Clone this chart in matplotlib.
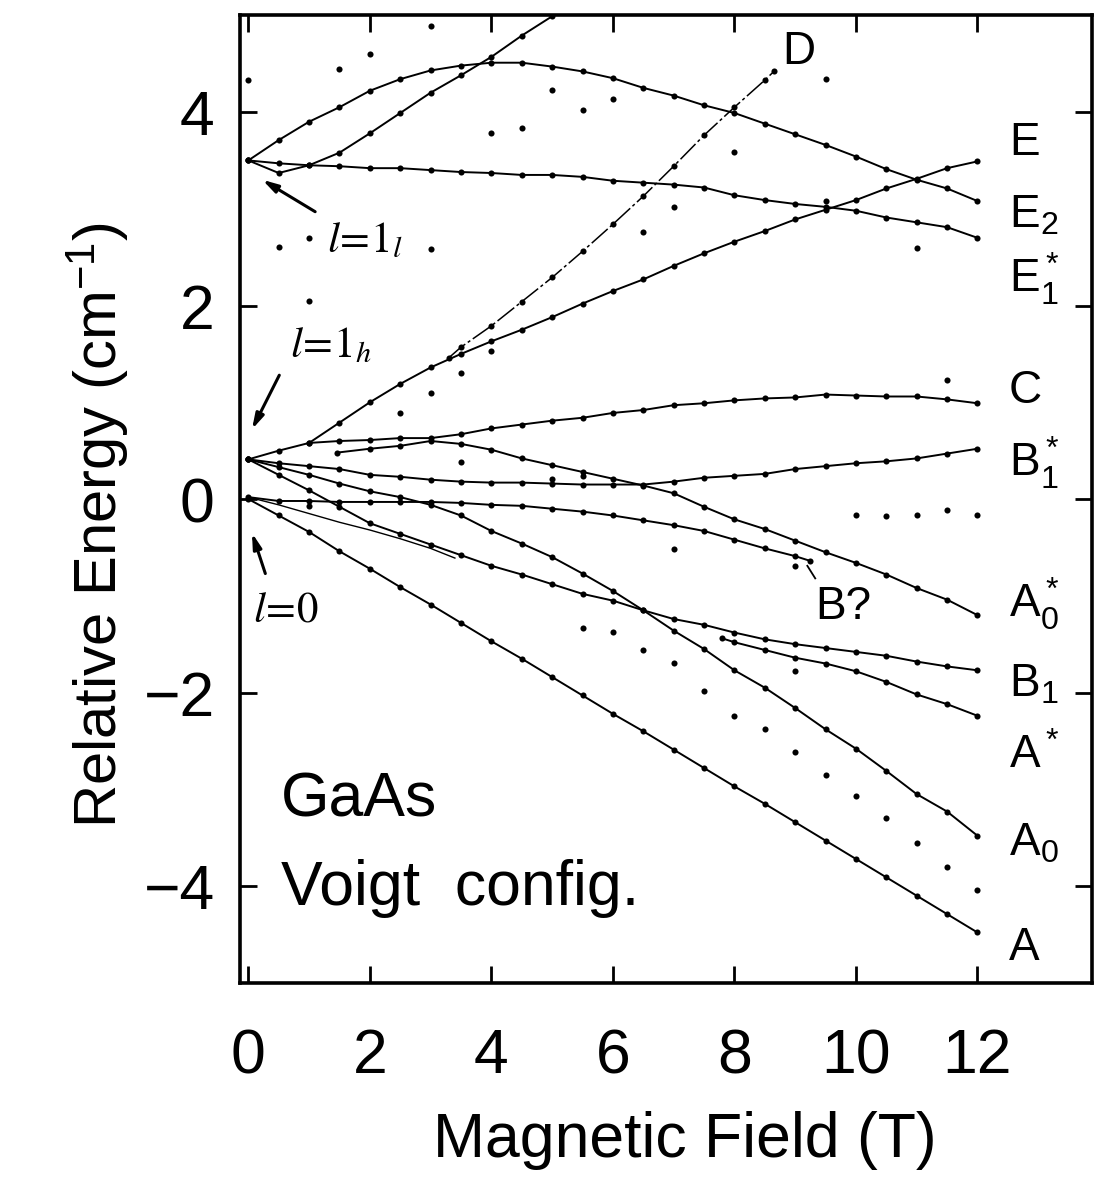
import matplotlib.pyplot as plt

plt.rcParams['font.family'] = ['Liberation Sans', 'DejaVu Sans']
plt.rcParams['mathtext.fontset'] = 'custom'
plt.rcParams['mathtext.rm'] = 'Liberation Sans'
plt.rcParams['mathtext.it'] = 'Liberation Sans:italic'
plt.rcParams['mathtext.bf'] = 'Liberation Sans:bold'

# field values (T) for the full-range levels
field = [0, 0.5, 1, 1.5, 2, 2.5, 3, 3.5, 4, 4.5, 5, 5.5, 6, 6.5, 7, 7.5, 8, 8.5,
         9, 9.5, 10, 10.5, 11, 11.5, 12]

# levels (cm^-1)
A = [0.0, -0.17, -0.34, -0.54, -0.72, -0.91, -1.09, -1.28, -1.47, -1.65, -1.84,
     -2.03, -2.22, -2.40, -2.59, -2.78, -2.97, -3.15, -3.34, -3.53, -3.72, -3.91,
     -4.10, -4.29, -4.48]
A0 = [0.41, 0.33, 0.25, 0.16, 0.08, 0.02, -0.06, -0.17, -0.33, -0.46, -0.60,
      -0.77, -0.95, -1.15, -1.36, -1.55, -1.77, -1.95, -2.16, -2.38, -2.58,
      -2.81, -3.05, -3.23, -3.48]
B1 = [0.41, 0.25, 0.09, -0.08, -0.25, -0.36, -0.47, -0.58, -0.69, -0.78, -0.88,
      -0.98, -1.05, -1.15, -1.24, -1.30, -1.38, -1.45, -1.50, -1.54, -1.58,
      -1.62, -1.68, -1.73, -1.77]
B1_star = [0.41, 0.37, 0.34, 0.31, 0.25, 0.23, 0.20, 0.18, 0.17, 0.17, 0.16,
           0.15, 0.15, 0.15, 0.18, 0.22, 0.24, 0.26, 0.31, 0.34, 0.37, 0.39,
           0.42, 0.47, 0.52]
C = [0.41, 0.50, 0.58, 0.60, 0.61, 0.63, 0.63, 0.67, 0.73, 0.77, 0.81, 0.84,
     0.89, 0.92, 0.97, 0.99, 1.02, 1.04, 1.05, 1.08, 1.07, 1.06, 1.06, 1.03, 0.99]
E2 = [3.50, 3.71, 3.90, 4.05, 4.22, 4.34, 4.43, 4.48, 4.51, 4.51, 4.47, 4.42,
      4.35, 4.25, 4.17, 4.07, 3.99, 3.88, 3.77, 3.66, 3.54, 3.41, 3.30, 3.21, 3.08]
E1_star = [3.50, 3.47, 3.45, 3.44, 3.42, 3.42, 3.40, 3.38, 3.37, 3.35, 3.35,
           3.33, 3.29, 3.27, 3.25, 3.22, 3.14, 3.09, 3.05, 3.02, 2.98, 2.91,
           2.86, 2.81, 2.70]

E_x = [1, 1.5, 2, 2.5, 3, 3.5, 4, 4.5, 5, 5.5, 6, 6.5, 7, 7.5, 8, 8.5, 9, 9.5,
       10, 10.5, 11, 11.5, 12]
E = [0.58, 0.79, 1.00, 1.19, 1.36, 1.50, 1.63, 1.75, 1.88, 2.02, 2.15, 2.27,
     2.41, 2.54, 2.66, 2.77, 2.89, 2.99, 3.09, 3.21, 3.31, 3.42, 3.49]

A0_star_x = [1.46, 2, 2.5, 3, 3.5, 4, 4.5, 5, 5.5, 6, 6.5, 7, 7.5, 8, 8.5, 9,
             9.5, 10, 10.5, 11, 11.5, 12]
A0_star = [0.48, 0.52, 0.55, 0.60, 0.57, 0.51, 0.42, 0.35, 0.28, 0.21, 0.14,
           0.06, -0.08, -0.21, -0.31, -0.43, -0.55, -0.66, -0.78, -0.92, -1.04,
           -1.20]

Bq_x = [0, 0.5, 1, 1.5, 2, 2.5, 3, 3.5, 4, 4.5, 5, 5.5, 6, 6.5, 7, 7.5, 8, 8.5,
        9, 9.25]
Bq = [0.02, -0.02, -0.02, -0.03, -0.03, -0.03, -0.03, -0.04, -0.06, -0.07,
      -0.10, -0.13, -0.17, -0.22, -0.27, -0.33, -0.42, -0.51, -0.59, -0.64]

l0_x = [0, 0.5, 1, 1.5, 2, 2.5, 3, 3.4]
l0 = [0.02, -0.06, -0.15, -0.24, -0.32, -0.41, -0.51, -0.61]

A_star_x = [7.8, 8, 8.5, 9, 9.5, 10, 10.5, 11, 11.5, 12]
A_star = [-1.44, -1.48, -1.56, -1.64, -1.70, -1.78, -1.89, -2.02, -2.12, -2.24]

D_x = [3.3, 3.5, 4, 4.5, 5, 5.5, 6, 6.5, 7, 7.5, 8, 8.5, 8.65]
D = [1.46, 1.57, 1.79, 2.04, 2.29, 2.56, 2.84, 3.13, 3.44, 3.76, 4.05, 4.33, 4.42]

top_x = [0, 0.5, 1, 1.5, 2, 2.5, 3, 3.5, 4, 4.5, 5]
top = [3.50, 3.37, 3.45, 3.58, 3.78, 3.99, 4.20, 4.38, 4.57, 4.79, 4.99]

# isolated points without a drawn level
dots_x = [0.0, 1.5, 2.0, 3.0, 4.0, 4.5, 5.0, 5.5, 6.0, 8.0, 9.5,
          0.5, 1.0, 1.0, 3.0, 6.5, 7.0, 9.5, 11.0,
          2.5, 3.0, 3.5, 4.0, 11.5,
          3.5, 5.0, 5.5, 1.0, 7.0, 9.0,
          10.0, 10.5, 11.0, 11.5, 12.0, 9.0,
          5.5, 6.0, 6.5, 7.0, 7.5, 8.0, 8.5, 9.0, 9.5, 10.0, 10.5, 11.0, 11.5, 12.0]
dots_y = [4.33, 4.44, 4.60, 4.89, 3.78, 3.84, 4.23, 4.02, 4.13, 3.59, 4.34,
          2.61, 2.70, 2.05, 2.58, 2.76, 3.02, 3.08, 2.59,
          0.89, 1.10, 1.30, 1.53, 1.23,
          0.38, 0.21, 0.24, -0.07, -0.52, -0.69,
          -0.17, -0.18, -0.17, -0.11, -0.16, -1.78,
          -1.33, -1.37, -1.56, -1.69, -1.98, -2.24, -2.38, -2.61, -2.85, -3.07,
          -3.30, -3.56, -3.80, -4.04]

fig = plt.figure(figsize=(10.95, 11.77), dpi=100)
ax = fig.add_axes([0.219, 0.165, 0.778, 0.822])


def level(x, y, lw=1.4, dots=True, ls='-'):
    ax.plot(x, y, color='k', lw=lw, ls=ls, marker='o' if dots else None,
            ms=4.4, mew=0)


for y in [A, A0, B1, B1_star, C, E2, E1_star]:
    level(field, y)
level(E_x, E)
level(A0_star_x, A0_star)
level(Bq_x, Bq)
level(l0_x, l0, lw=1.0, dots=False)
level(A_star_x, A_star)
level(D_x, D, lw=1.1, ls=(0, (14, 2, 2, 2)))
level(top_x, top)
ax.plot(dots_x, dots_y, 'o', color='k', ms=4.4, mew=0, ls='none')

# level names on the right
names = ['E', 'E$_2$', 'E$_1^*$', 'C', 'B$_1^*$', 'A$_0^*$', 'B$_1$', 'A$^*$',
         'A$_0$', 'A']
name_y = [3.56, 2.81, 2.13, 0.99, 0.23, -1.22, -2.04, -2.78, -3.68, -4.76]
for s, y in zip(names, name_y):
    ax.text(12.52, y, s, fontsize=33, va='baseline', ha='left')
ax.text(8.78, 4.50, 'D', fontsize=33, va='baseline')
ax.text(9.33, -1.24, 'B?', fontsize=33, va='baseline')
ax.plot([9.2, 9.33], [-0.69, -0.82], color='k', lw=1.3)

ax.text(0.53, -3.28, 'GaAs', fontsize=45, va='baseline')
ax.text(0.53, -4.20, 'Voigt  config.', fontsize=45, va='baseline')

# l labels with arrows
arrow = dict(arrowstyle='-|>,head_length=0.9,head_width=0.25', lw=2.2, color='k',
             shrinkA=0, shrinkB=0)
ax.annotate('', xy=(0.23, 3.30), xytext=(1.10, 2.97), arrowprops=arrow)
ax.text(1.30, 2.55, r'$l\!=\!1_l$', fontsize=31, math_fontfamily='stix',
        va='baseline')
ax.annotate('', xy=(0.06, 0.72), xytext=(0.51, 1.28), arrowprops=arrow)
ax.text(0.69, 1.46, r'$l\!=\!1_h$', fontsize=31, math_fontfamily='stix',
        va='baseline')
ax.annotate('', xy=(0.06, -0.35), xytext=(0.28, -0.77), arrowprops=arrow)
ax.text(0.08, -1.27, r'$l\!=\!0$', fontsize=31, math_fontfamily='stix',
        va='baseline')

ax.set_xlim(-0.14, 13.88)
ax.set_ylim(-5, 5)
ax.set_xticks([0, 2, 4, 6, 8, 10, 12])
ax.set_yticks([-4, -2, 0, 2, 4])
ax.tick_params(direction='in', length=12, width=2, top=True, right=True,
               labelsize=45)
ax.tick_params(axis='x', pad=32)
ax.tick_params(axis='y', pad=18)
for sp in ax.spines.values():
    sp.set_linewidth(2.6)

ax.set_xlabel('Magnetic Field (T)', fontsize=45)
ax.xaxis.set_label_coords(0.522, -0.133)
ax.set_ylabel('Relative Energy (cm$^{-1}$)', fontsize=43, va='center')
ax.yaxis.set_label_coords(-0.167, 0.473)

fig.savefig('out.png', dpi=100)
